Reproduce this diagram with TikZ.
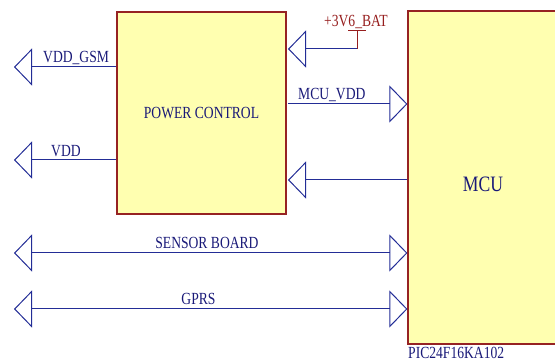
\documentclass[tikz,border=0pt]{standalone}
\usepackage{fontspec}
\setmainfont{Liberation Serif}[FakeStretch=0.8]
\usepackage{xcolor}
\usepackage{tikz}
\usetikzlibrary{arrows.meta, positioning}
\definecolor{boxfill}{RGB}{255,255,176}
\definecolor{boxline}{RGB}{150,35,35}
\definecolor{wireblue}{RGB}{35,45,150}
\definecolor{textblue}{RGB}{25,25,120}
\definecolor{pwrred}{RGB}{150,30,30}
\tikzstyle{block} = [draw=boxline, fill=boxfill, line width=1.2pt, inner sep=0pt,
    text=textblue, font=\fontsize{17}{19}\selectfont]
\tikzstyle{netlbl} = [text=textblue, inner sep=0pt, font=\fontsize{17}{19}\selectfont]
\tikzstyle{wire} = [draw=wireblue, line width=1pt]
\tikzstyle{pwr} = [draw=pwrred, line width=1pt]
\tikzstyle{port} = [-{Triangle[open, length=18pt, width=37pt]}]
\tikzstyle{biport} = [{Triangle[open, length=18pt, width=37pt]}-{Triangle[open, length=18pt, width=37pt]}]

\begin{document}
\begin{tikzpicture}[x=1pt, y=-1pt]
  \path[use as bounding box, clip] (0,0) rectangle (555,363);

  % Blocks
  \node[block, minimum width=169pt, minimum height=202pt] (power) at (201.5,113) {POWER CONTROL};
  \node[block, minimum width=152pt, minimum height=333pt] (mcu) at (484,177.5) {};
  \node[netlbl, font=\fontsize{22}{24}\selectfont] (mcutxt) at (483,184.5) {MCU};
  \node[netlbl, anchor=base west] (mcupart) at (408,358.5) {PIC24F16KA102};

  % Port ends
  \coordinate (gsm) at (14,67);
  \coordinate (vdd) at (14,160);
  \coordinate (sens) at (14,253);
  \coordinate (gprs) at (14,309);
  \coordinate (batbar) at (357,31);
  \coordinate (batjoin) at (357,49);
  \coordinate (mcuvdd) at (288,104);
  \coordinate (fback) at (288,180);

  % Wires
  \draw[wire, port] (power.west |- gsm) -- (gsm);
  \draw[wire, port] (power.west |- vdd) -- (vdd);
  \draw[pwr] ([xshift=-9pt]batbar) -- ([xshift=9pt]batbar);
  \draw[pwr] (batbar) -- (batjoin);
  \draw[wire, port] (batjoin) -- (batjoin -| mcuvdd);
  \draw[wire, port] (mcuvdd) -- (mcuvdd -| mcu.west);
  \draw[wire, port] (mcu.west |- fback) -- (fback);
  \draw[wire, biport] (sens) -- (sens -| mcu.west);
  \draw[wire, biport] (gprs) -- (gprs -| mcu.west);

  % Net labels
  \node[netlbl, anchor=base west] (gsmlbl) at (43,63) {VDD\_GSM};
  \node[netlbl, anchor=base west] (vddlbl) at (51,157) {VDD};
  \node[netlbl, anchor=base west] (mcuvddlbl) at (298,100) {MCU\_VDD};
  \node[netlbl, anchor=base] (senslbl) at (207,249) {SENSOR BOARD};
  \node[netlbl, anchor=base] (gprslbl) at (198.5,305) {GPRS};
  \node[netlbl, text=pwrred, anchor=base] (batlbl) at (356,27) {+3V6\_BAT};
\end{tikzpicture}
\end{document}
